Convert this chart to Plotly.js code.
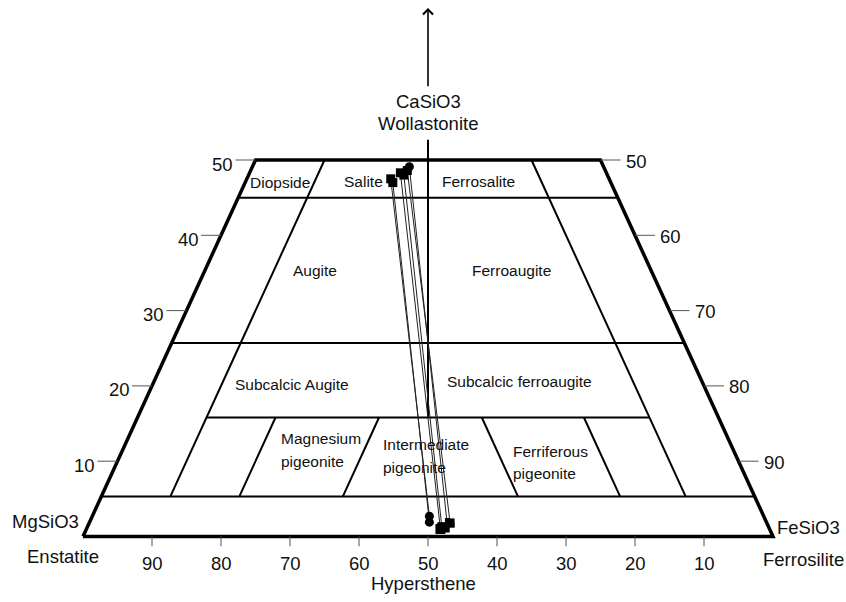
<!DOCTYPE html>
<html><head><meta charset="utf-8">
<script src="https://cdn.plot.ly/plotly-3.0.1.min.js"></script>
<style>html,body{margin:0;padding:0;background:#fff}#chart{width:846px;height:602px}</style>
</head><body><div id="chart"></div>
<script>
// ---- data: pyroxene pairs (mol%, Wo and Fs; En = 100 - Wo - Fs) ----
const cpxWo = [47.5, 47.0, 48.3, 48.0, 49.1, 48.6];
const cpxFs = [20.85, 21.4, 21.85, 22.5, 22.75, 22.7];
const opxWo = [2.7, 1.9, 1.0, 1.3, 1.5, 1.8];
const opxFs = [48.85, 49.25, 51.3, 51.35, 52.05, 52.3];
const cpxSymbols = ['square', 'square', 'square', 'square', 'circle', 'square'];
const opxSymbols = ['circle', 'circle', 'square', 'square', 'cross', 'square'];
const opxSizes = [9, 9, 10, 9, 12, 9];

// ---- classification boundaries ----
const outlineFs = [0, 0, 50, 100, 0];
const outlineWo = [0, 50, 50, 0, 0];
const fullWoLines = [45, 25.7, 5.3];        // edge-to-edge Wo levels
const midWoLine = 15.8;                      // Wo level between Fs10 and En10
const mainFs = 10, mainEn = 10;              // long dividers (Wo 50 -> 5.3)
const pigFs = [20, 35];                      // pigeonite dividers (Mg side)
const pigEn = [34.3, 19.5];                  // pigeonite dividers (Fe side)
const centreWoTop = 52.7, centreWoBottom = 15.8;

// ---- ticks ----
const woTicks = [10, 20, 30, 40, 50];
const enTicks = [90, 80, 70, 60, 50, 40, 30, 20, 10];

const FONT = "'Liberation Sans', Arial, sans-serif";
const X = (fs, wo) => fs + wo / 2;

const traces = [];
function seg(xs, ys, w, c) {
  traces.push({type: 'scatter', mode: 'lines', x: xs, y: ys, hoverinfo: 'skip',
    line: {color: c || '#000', width: w}});
}
// outline
seg(outlineFs.map((f, i) => X(f, outlineWo[i])), outlineWo, 3.5);
// full horizontal lines
fullWoLines.forEach(w => seg([X(0, w), X(100 - w, w)], [w, w], 2));
// Wo 15.8 partial line
seg([X(mainFs, midWoLine), X(100 - mainEn - midWoLine, midWoLine)], [midWoLine, midWoLine], 2);
// long dividers
seg([X(mainFs, 50), X(mainFs, 5.3)], [50, 5.3], 2);
seg([X(100 - mainEn - 50, 50), X(100 - mainEn - 5.3, 5.3)], [50, 5.3], 2);
// pigeonite dividers
pigFs.forEach(f => seg([X(f, midWoLine), X(f, 5.3)], [midWoLine, 5.3], 2));
pigEn.forEach(e => seg([X(100 - e - midWoLine, midWoLine), X(100 - e - 5.3, 5.3)], [midWoLine, 5.3], 2));
// centre line (En = Fs)
seg([X((100 - centreWoTop) / 2, centreWoTop), X((100 - centreWoBottom) / 2, centreWoBottom)],
    [centreWoTop, centreWoBottom], 2);

// ticks
woTicks.forEach(w => {
  seg([X(0, w), X(0, w) - 2.9], [w, w], 1, '#555');
  seg([X(100 - w, w), X(100 - w, w) + 2.9], [w, w], 1, '#555');
});
enTicks.forEach(e => seg([100 - e, 100 - e], [0, -1.3], 1, '#555'));

// tie lines
const tx = [], ty = [];
cpxWo.forEach((w, i) => {
  tx.push(X(cpxFs[i], w), X(opxFs[i], opxWo[i]), null);
  ty.push(w, opxWo[i], null);
});
traces.push({type: 'scatter', mode: 'lines', x: tx, y: ty, hoverinfo: 'skip',
  line: {color: '#222', width: 1}});
// markers
traces.push({type: 'scatter', mode: 'markers', x: cpxWo.map((w, i) => X(cpxFs[i], w)), y: cpxWo,
  marker: {symbol: cpxSymbols, size: 9, color: '#000', opacity: 1, line: {width: 0}}});
traces.push({type: 'scatter', mode: 'markers', x: opxWo.map((w, i) => X(opxFs[i], w)), y: opxWo,
  marker: {symbol: opxSymbols, size: opxSizes, color: '#000', opacity: 1, line: {width: 0}}});

// annotations
const ann = [];
function txt(t, x, y, size, xanchor, extra) {
  ann.push(Object.assign({text: t, x: x, y: y, xref: 'x', yref: 'y', showarrow: false,
    xanchor: xanchor || 'center', yanchor: 'middle', font: {family: FONT, size: size, color: '#111'}}, extra || {}));
}
const BIG = 18.5, TICK = 18.5, REG = 15.5;
txt('CaSiO3', 50, 57.74, BIG);
txt('Wollastonite', 50, 54.87, BIG);
txt('MgSiO3', -5.43, 1.93, BIG);
txt('Enstatite', -2.97, -2.59, BIG);
txt('FeSiO3', 105.2, 1.13, BIG);
txt('Ferrosilite', 104.4, -2.99, BIG);
txt('Hypersthene', 49.4, -6.2, BIG);
woTicks.forEach(w => {
  txt(String(w), X(0, w) - 2.9, w, TICK, 'right', {yshift: -4});
  txt(String(100 - w), X(100 - w, w) + 2.9, w, TICK, 'left', {yshift: -1, xshift: 3});
});
enTicks.forEach(e => txt(String(e), 100 - e, -3.52, TICK));
txt('Diopside', 28.55, 47.05, REG);
txt('Salite', 40.62, 47.21, REG);
txt('Ferrosalite', 57.29, 47.21, REG);
txt('Augite', 33.62, 35.39, REG);
txt('Ferroaugite', 62.17, 35.39, REG);
txt('Subcalcic Augite', 30.25, 20.25, REG);
txt('Subcalcic ferroaugite', 63.33, 20.56, REG);
txt('Magnesium', 28.41, 12.95, REG, 'left');
txt('pigeonite', 28.41, 9.93, REG, 'left');
txt('Intermediate', 43.25, 12.28, REG, 'left');
txt('pigeonite', 43.25, 9.10, REG, 'left');
txt('Ferriferous', 62.03, 11.35, REG, 'left');
txt('pigeonite', 62.03, 8.43, REG, 'left');
// arrow
ann.push({x: 50, y: 70.2, ax: 50, ay: 59.6, xref: 'x', yref: 'y', axref: 'x', ayref: 'y',
  text: '', showarrow: true, arrowhead: 4, arrowsize: 1.2, arrowwidth: 1.6, arrowcolor: '#000', standoff: 0});

const layout = {
  width: 846, height: 602, margin: {l: 0, r: 0, t: 0, b: 0},
  paper_bgcolor: '#fff', plot_bgcolor: '#fff', showlegend: false,
  xaxis: {visible: false, range: [-12.029, 110.580], fixedrange: true},
  yaxis: {visible: false, range: [-8.699, 71.248], fixedrange: true},
  annotations: ann
};
Plotly.newPlot('chart', traces, layout, {staticPlot: true, displayModeBar: false});
</script></body></html>
